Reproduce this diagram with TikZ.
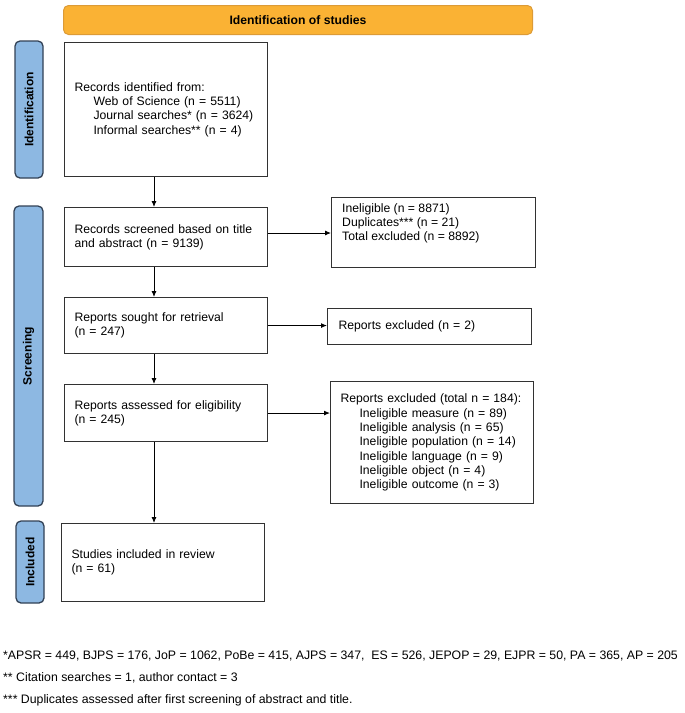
\documentclass[tikz,border=0pt]{standalone}
\usepackage{fontspec}
\setmainfont{Liberation Sans}
\usetikzlibrary{arrows.meta}
\definecolor{hdrfill}{RGB}{250,178,52}
\definecolor{hdrdraw}{RGB}{220,155,55}
\definecolor{tabfill}{RGB}{141,184,226}
\definecolor{tabdraw}{RGB}{50,65,85}
\definecolor{boxdraw}{RGB}{50,50,50}
\begin{document}
\begin{tikzpicture}[x=1pt,y=-1pt,
  every node/.style={font=\fontsize{12.2}{14.3}\selectfont, text=black},
  flowbox/.style={draw=boxdraw, line width=1.1pt, rectangle, align=left,
    inner xsep=10pt, inner ysep=0pt, anchor=north west},
  emptybox/.style={draw=boxdraw, line width=1.1pt, rectangle, inner sep=0pt, anchor=north west},
  header/.style={draw=hdrdraw, fill=hdrfill, line width=1pt, rounded corners=5pt,
    anchor=north west, inner sep=0pt, font=\fontsize{12.2}{14.3}\selectfont\bfseries},
  phasetab/.style={draw=tabdraw, fill=tabfill, line width=1.3pt, rounded corners=5pt,
    rotate=90, inner sep=0pt, font=\fontsize{12}{14}\selectfont\bfseries},
  arr/.style={-{Latex[length=6pt,width=5pt]}, line width=0.9pt, draw=black},
  footnote/.style={anchor=west, inner sep=0pt, font=\fontsize{12.3}{14}\selectfont}
  ]
\useasboundingbox (0,0) rectangle (685,713);

% header
\node[header, minimum width=469pt, minimum height=29pt] (hdr) at (63,5) {Identification of studies};

% phase tabs
\node[phasetab, minimum width=137pt, minimum height=28pt] (tabid) at (29,109.5) {Identification};
\node[phasetab, minimum width=300pt, minimum height=29pt] (tabsc) at (28.5,356) {Screening};
\node[phasetab, minimum width=82pt, minimum height=28pt] (tabin) at (30,562) {Included};

% main column
\node[flowbox, text width=183pt, minimum height=134pt] (b1) at (64,42)
  {Records identified from:\\
   \hspace*{19pt}Web of Science (n = 5511)\\
   \hspace*{19pt}Journal searches* (n = 3624)\\
   \hspace*{19pt}Informal searches** (n = 4)};
\node[flowbox, text width=183pt, minimum height=59pt] (b2) at (64,207)
  {Records screened based on title\\and abstract (n = 9139)};
\node[flowbox, text width=183pt, minimum height=56pt] (b3) at (64,297)
  {Reports sought for retrieval\\(n = 247)};
\node[flowbox, text width=183pt, minimum height=57pt] (b4) at (64,384)
  {Reports assessed for eligibility\\(n = 245)};
\node[flowbox, text width=183pt, minimum height=78pt] (b5) at (61,523)
  {Studies included in review\\(n = 61)};

% right column
\node[emptybox, minimum width=204pt, minimum height=70pt] (r1) at (331,197) {};
\node[anchor=west, align=left, inner sep=0pt] (r1t) at (342,223.5)
  {Ineligible (n = 8871)\\Duplicates*** (n = 21)\\Total excluded (n = 8892)};
\node[flowbox, inner xsep=11pt, text width=182pt, minimum height=36pt] (r2) at (327,308)
  {Reports excluded (n = 2)};
\node[flowbox, text width=183pt, minimum height=122pt] (r3) at (330,381)
  {Reports excluded (total n = 184):\\
   \hspace*{19pt}Ineligible measure (n = 89)\\
   \hspace*{19pt}Ineligible analysis (n = 65)\\
   \hspace*{19pt}Ineligible population (n = 14)\\
   \hspace*{19pt}Ineligible language (n = 9)\\
   \hspace*{19pt}Ineligible object (n = 4)\\
   \hspace*{19pt}Ineligible outcome (n = 3)};

% connectors
\coordinate (ax) at (154,0);
\draw[arr] (b1.south -| ax) -- (b2.north -| ax);
\draw[arr] (b2.south -| ax) -- (b3.north -| ax);
\draw[arr] (b3.south -| ax) -- (b4.north -| ax);
\draw[arr] (b4.south -| ax) -- (b5.north -| ax);
\coordinate (h1) at (0,233);
\draw[arr] (b2.east |- h1) -- (r1.west |- h1);
\draw[arr] (b3.east) -- (r2.west |- b3.east);
\draw[arr] (b4.east) -- (r3.west |- b4.east);

% footnotes
\node[footnote] (f1) at (3,656) {*APSR = 449, BJPS = 176, JoP = 1062, PoBe = 415, AJPS = 347, \ ES = 526, JEPOP = 29, EJPR = 50, PA = 365, AP = 205};
\node[footnote] (f2) at (3,678) {** Citation searches = 1, author contact = 3};
\node[footnote] (f3) at (3,700) {*** Duplicates assessed after first screening of abstract and title.};
\end{tikzpicture}
\end{document}
